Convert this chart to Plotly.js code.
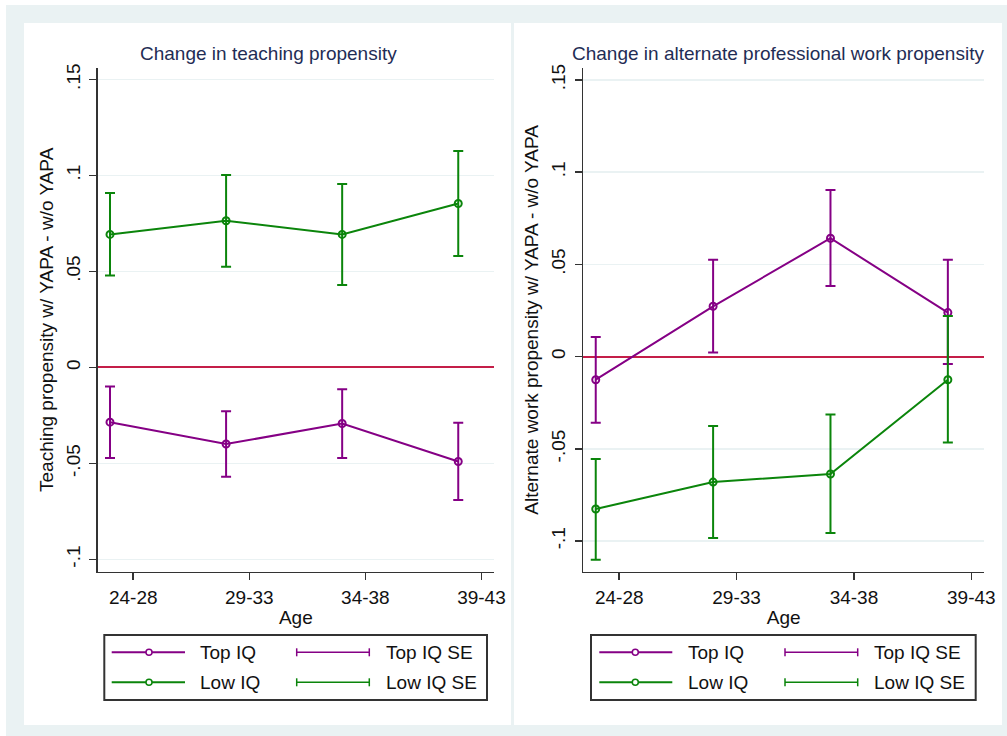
<!DOCTYPE html>
<html>
<head>
<meta charset="utf-8">
<script src="https://cdn.plot.ly/plotly-3.0.1.min.js"></script>
<style>
  html, body { margin: 0; padding: 0; background: #fff; }
  #chart { width: 1007px; height: 736px; }
</style>
</head>
<body>
<div id="chart"></div>
<script>
// categories
var ageGroups = ['24-28', '29-33', '34-38', '39-43'];

// change in teaching propensity
var teachTop   = [-0.0285, -0.0399, -0.0292, -0.0490];
var teachTopLo = [-0.0472, -0.0570, -0.0472, -0.0691];
var teachTopHi = [-0.0099, -0.0228, -0.0113, -0.0288];
var teachLow   = [0.0693, 0.0764, 0.0693, 0.0854];
var teachLowLo = [0.0479, 0.0524, 0.0430, 0.0580];
var teachLowHi = [0.0909, 0.1003, 0.0956, 0.1127];

// change in alternate professional work propensity
var altTop   = [-0.0125, 0.0273, 0.0642, 0.0239];
var altTopLo = [-0.0358, 0.0022, 0.0383, -0.0040];
var altTopHi = [0.0107, 0.0526, 0.0904, 0.0526];
var altLow   = [-0.0826, -0.0680, -0.0636, -0.0125];
var altLowLo = [-0.1101, -0.0983, -0.0956, -0.0466];
var altLowHi = [-0.0555, -0.0376, -0.0314, 0.0221];

// y axis ticks
var yTickVals = [-0.1, -0.05, 0, 0.05, 0.1, 0.15];
var yTickText = ['-.1', '-.05', '0', '.05', '.1', '.15'];

var W = 1007, H = 736;
var purple = '#850085';
var green = '#0b850b';
var FONT = 'Liberation Sans, Arial, sans-serif';
var BG = '#eaf2f3';

function fx(p) { return p / W; }
function fy(p) { return 1 - p / H; }

var xPos = ageGroups.map(function(g, i) { return i + 1; });
var xTicks = ageGroups.map(function(g, i) { return i + 1.2; });

function makeTrace(xa, ya, y, lo, hi, color, name) {
    return {
        type: 'scatter',
        mode: 'lines+markers',
        name: name,
        x: xPos,
        y: y,
        xaxis: xa,
        yaxis: ya,
        line: { color: color, width: 2 },
        marker: { symbol: 'circle-open', size: 7, color: color, line: { width: 2, color: color } },
        error_y: {
            type: 'data',
            symmetric: false,
            array: hi.map(function(v, i) { return v - y[i]; }),
            arrayminus: lo.map(function(v, i) { return y[i] - v; }),
            color: color,
            thickness: 2,
            width: 5
        },
        showlegend: false,
        hoverinfo: 'x+y'
    };
}

var data = [
    makeTrace('x', 'y', teachTop, teachTopLo, teachTopHi, purple, 'Top IQ'),
    makeTrace('x', 'y', teachLow, teachLowLo, teachLowHi, green, 'Low IQ'),
    makeTrace('x2', 'y2', altTop, altTopLo, altTopHi, purple, 'Top IQ'),
    makeTrace('x2', 'y2', altLow, altLowLo, altLowHi, green, 'Low IQ')
];

function xAxis(d0, d1, anchor) {
    return {
        domain: [fx(d0), fx(d1)],
        anchor: anchor,
        range: [0.894, 4.308],
        tickvals: xTicks,
        ticktext: ageGroups,
        showgrid: false,
        zeroline: false,
        showline: true,
        linecolor: '#333',
        linewidth: 1.5,
        ticks: 'outside',
        ticklen: 7,
        tickwidth: 1.5,
        tickcolor: '#333',
        ticklabelstandoff: 1,
        tickfont: { family: FONT, size: 19, color: '#111' },
        title: { text: 'Age', standoff: 3, font: { family: FONT, size: 19, color: '#111' } },
        automargin: false,
        fixedrange: true
    };
}

function yAxis(range, anchor, title) {
    return {
        domain: [fy(571.7), fy(68)],
        anchor: anchor,
        range: range,
        tickvals: yTickVals,
        ticktext: yTickText,
        tickangle: -90,
        showgrid: true,
        gridcolor: BG,
        gridwidth: 1.5,
        zeroline: true,
        zerolinecolor: '#c41e48',
        zerolinewidth: 2,
        showline: true,
        linecolor: '#333',
        linewidth: 1.5,
        ticks: 'outside',
        ticklen: 7,
        tickwidth: 1.5,
        tickcolor: '#333',
        ticklabelstandoff: 2,
        tickfont: { family: FONT, size: 19, color: '#111' },
        title: { text: title, standoff: 4, font: { family: FONT, size: 19, color: '#111' } },
        automargin: false,
        fixedrange: true
    };
}

var shapes = [
    { type: 'rect', xref: 'paper', yref: 'paper', x0: fx(6), x1: 1, y0: 0, y1: fy(5),
      fillcolor: BG, line: { width: 0 }, layer: 'below' },
    { type: 'rect', xref: 'paper', yref: 'paper', x0: fx(24), x1: fx(511), y0: fy(725), y1: fy(23),
      fillcolor: '#fff', line: { width: 0 }, layer: 'below' },
    { type: 'rect', xref: 'paper', yref: 'paper', x0: fx(514), x1: fx(1002), y0: fy(725), y1: fy(23),
      fillcolor: '#fff', line: { width: 0 }, layer: 'below' }
];

var annotations = [
    { text: 'Change in teaching propensity', xref: 'paper', yref: 'paper',
      x: fx(268.3), y: fy(53.3), xanchor: 'center', yanchor: 'middle', showarrow: false,
      font: { family: FONT, size: 19, color: '#1f2d55' } },
    { text: 'Change in alternate professional work propensity', xref: 'paper', yref: 'paper',
      x: fx(777.5), y: fy(53.3), xanchor: 'center', yanchor: 'middle', showarrow: false,
      font: { family: FONT, size: 19, color: '#1f2d55' } }
];

// hand-drawn legend box like the stata one (2 x 2)
function addLegend(bx0, bx1, lx0, lx1, mx, tx, sx0, sx1, stx) {
    var rows = [
        { y: 652.3, color: purple, label: 'Top IQ' },
        { y: 682.3, color: green, label: 'Low IQ' }
    ];
    shapes.push({ type: 'rect', xref: 'paper', yref: 'paper', x0: fx(bx0), x1: fx(bx1), y0: fy(700), y1: fy(635),
        line: { color: '#333', width: 2 }, fillcolor: 'rgba(0,0,0,0)' });
    rows.forEach(function(r) {
        shapes.push({ type: 'line', xref: 'paper', yref: 'paper', x0: fx(lx0), x1: fx(lx1), y0: fy(r.y), y1: fy(r.y),
            line: { color: r.color, width: 2 } });
        shapes.push({ type: 'circle', xref: 'paper', yref: 'paper', x0: fx(mx - 3), x1: fx(mx + 3), y0: fy(r.y + 3), y1: fy(r.y - 3),
            line: { color: r.color, width: 1.5 }, fillcolor: '#fff' });
        shapes.push({ type: 'line', xref: 'paper', yref: 'paper', x0: fx(sx0), x1: fx(sx1), y0: fy(r.y), y1: fy(r.y),
            line: { color: r.color, width: 1.5 } });
        [sx0, sx1].forEach(function(cx) {
            shapes.push({ type: 'line', xref: 'paper', yref: 'paper', x0: fx(cx), x1: fx(cx), y0: fy(r.y + 4), y1: fy(r.y - 4),
                line: { color: r.color, width: 1.5 } });
        });
        annotations.push({ text: r.label, xref: 'paper', yref: 'paper', x: fx(tx), y: fy(r.y),
            xanchor: 'left', yanchor: 'middle', showarrow: false, borderpad: 0,
            font: { family: FONT, size: 19, color: '#111' } });
        annotations.push({ text: r.label + ' SE', xref: 'paper', yref: 'paper', x: fx(stx), y: fy(r.y),
            xanchor: 'left', yanchor: 'middle', showarrow: false, borderpad: 0,
            font: { family: FONT, size: 19, color: '#111' } });
    });
}
addLegend(104.3, 487, 111.7, 185, 149, 199.3, 296.7, 369.3, 385);
addLegend(591, 975.7, 599.3, 672.3, 635.3, 687.3, 785, 857.7, 872.7);

var layout = {
    width: W,
    height: H,
    margin: { l: 0, r: 0, t: 0, b: 0 },
    paper_bgcolor: '#fff',
    plot_bgcolor: 'rgba(0,0,0,0)',
    showlegend: false,
    xaxis: xAxis(97.7, 494, 'y'),
    yaxis: yAxis([-0.1064, 0.156], 'x', 'Teaching propensity w/ YAPA - w/o YAPA'),
    xaxis2: xAxis(583.3, 984, 'y2'),
    yaxis2: yAxis([-0.1166, 0.1565], 'x2', 'Alternate work propensity w/ YAPA - w/o YAPA'),
    shapes: shapes,
    annotations: annotations
};

Plotly.newPlot('chart', data, layout, { displayModeBar: false, staticPlot: true });
</script>
</body>
</html>
